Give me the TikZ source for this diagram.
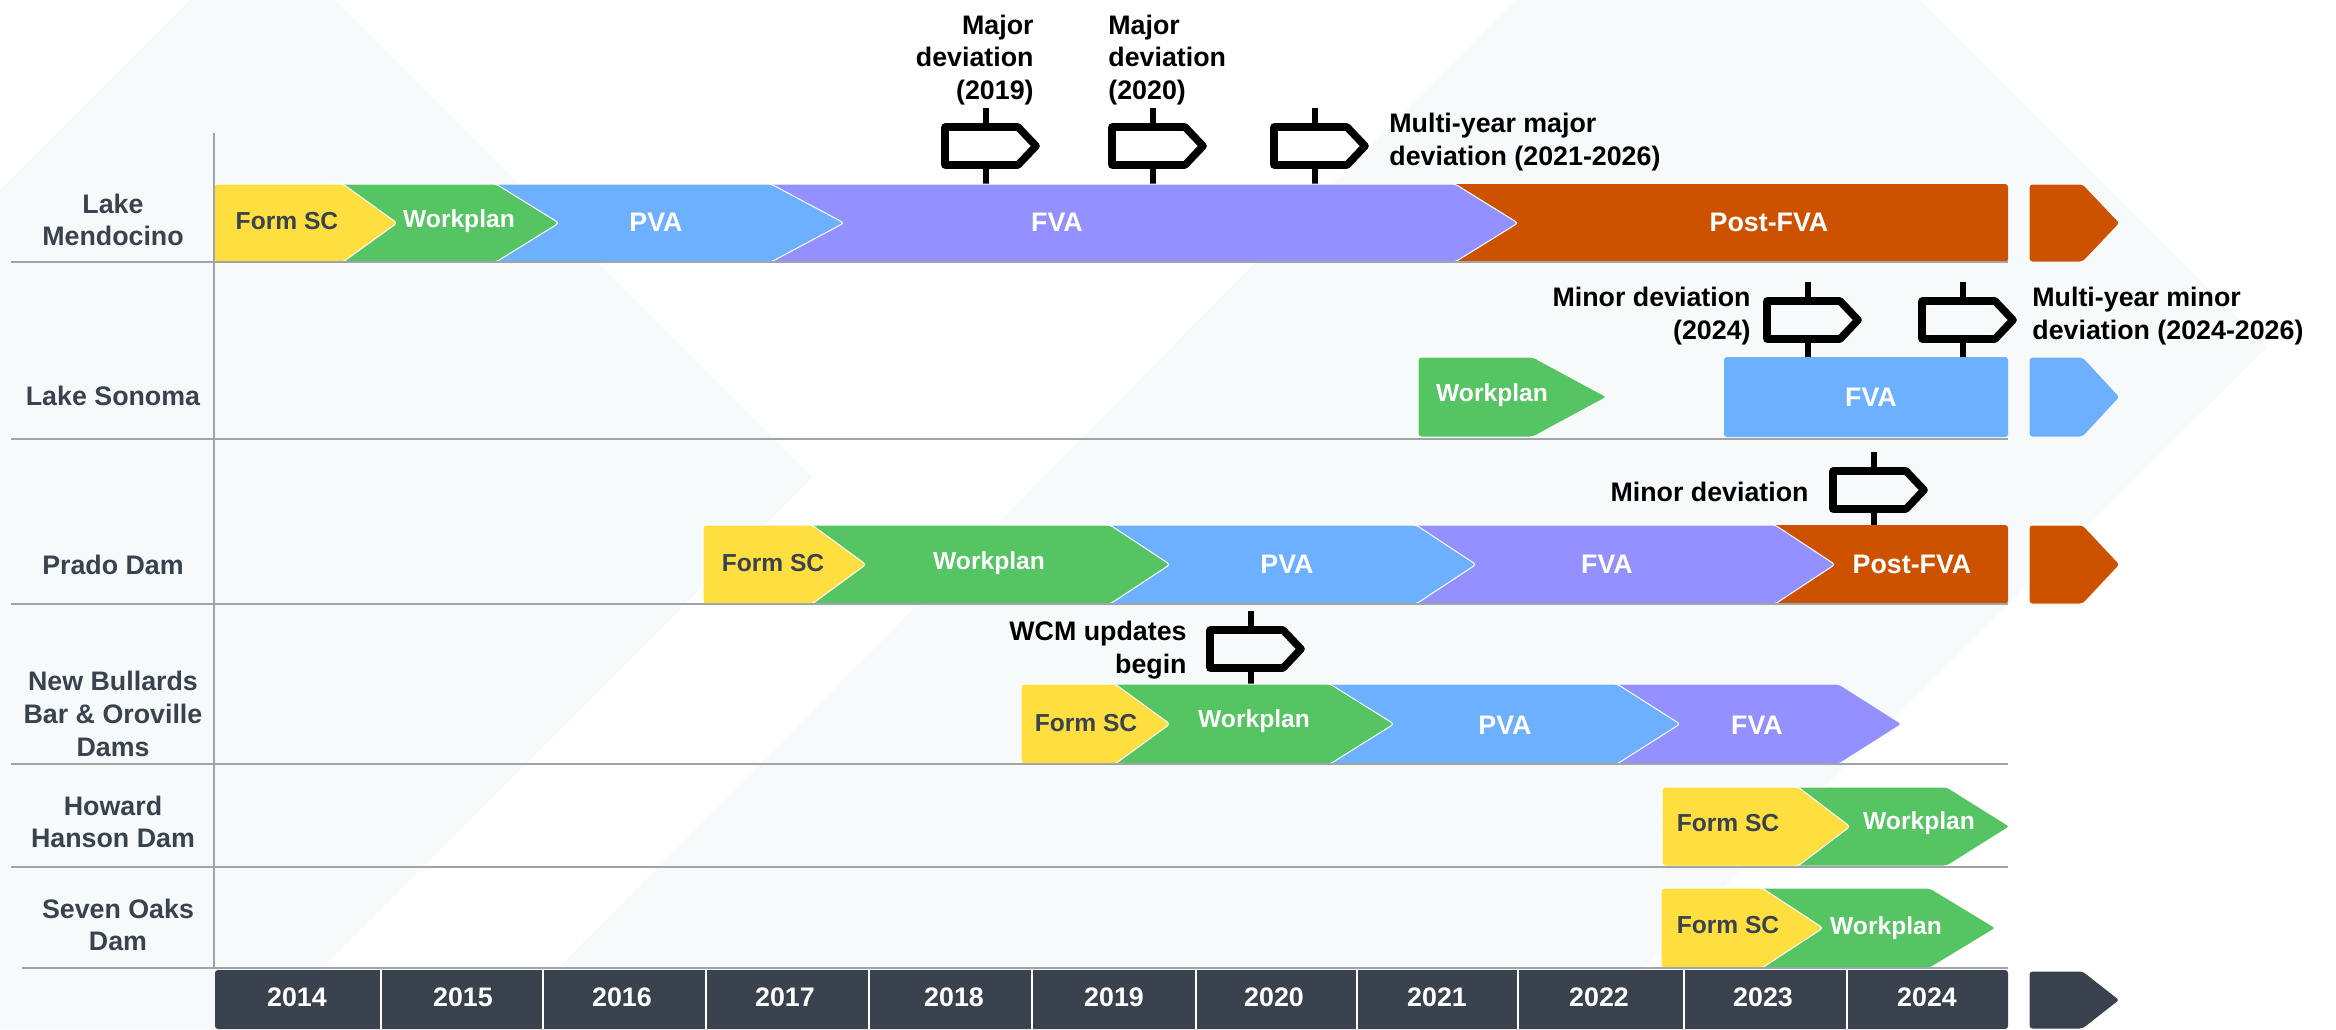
\documentclass[tikz,border=0pt]{standalone}
\usepackage{fontspec}
\setmainfont{Liberation Sans}

\definecolor{bgpale}{HTML}{F6FAFB}
\definecolor{scyellow}{HTML}{FFDF3F}
\definecolor{wpgreen}{HTML}{55C463}
\definecolor{pvablue}{HTML}{6DB0FF}
\definecolor{fvapurple}{HTML}{9391FF}
\definecolor{postorange}{HTML}{CC5200}
\definecolor{slate}{HTML}{3A424D}
\definecolor{rowgray}{HTML}{9FA4AA}

\tikzset{
  phasetxt/.style={font=\fontsize{12.3}{14}\selectfont\bfseries, text=white, inner sep=0pt, yshift=-.6pt},
  widetxt/.style={phasetxt, font=\fontsize{13.4}{14}\selectfont\bfseries},
  sctxt/.style={phasetxt, text=slate},
  lake/.style={font=\fontsize{13.4}{16.4}\selectfont\bfseries, text=slate, align=center, inner sep=0pt},
  note/.style={font=\fontsize{13.4}{16.4}\selectfont\bfseries, text=black, inner sep=0pt},
  yeartxt/.style={lake, text=white},
}

% left, shoulder, tip, top, bottom, colour
\newcommand{\phase}[6]{
  \filldraw [fill=#6, draw=white, line width=.5pt, rounded corners=1.5pt]
    (#1,#4) -- (#2,#4) -- ({#3+2},{(#4+#5)/2}) -- (#2,#5) -- (#1,#5) -- cycle;
}

\begin{document}
\begin{tikzpicture}[x=.5pt, y=-.5pt]
\useasboundingbox (0,0) rectangle (2336,1029);

% background
\fill [bgpale] (0,190) -- (190,0) -- (335,0) -- (812,477) -- (262,1029) -- (0,1029) -- cycle;
\fill [bgpale] (1515,0) -- (1920,0) -- (2267,347) -- (1582,1029) -- (498,1029) -- cycle;

% signposts
\foreach \px/\py in {986/184, 1153/184, 1315/184, 1808/358, 1963/358, 1874/528, 1251/687}{
  \draw [black, line width=3pt] (\px,\py-76) -- (\px,\py-57);
  \draw [black, line width=3pt] (\px,\py-19) -- (\px,\py+4);
  \draw [black, line width=3.8pt, line join=round]
    (\px-41,\py-57) -- (\px+32,\py-57) -- (\px+50,\py-38) -- (\px+32,\py-19) -- (\px-41,\py-19) -- cycle;
}

% Lake Mendocino
\fill [postorange, rounded corners=1.5pt] (1400,184) rectangle (2008,262);
\phase{700}{1455}{1516}{184}{262}{fvapurple}
\phase{480}{771}{842}{184}{262}{pvablue}
\phase{330}{496}{557}{184}{262}{wpgreen}
\phase{214}{343}{395}{184}{262}{scyellow}
\phase{2029}{2083}{2118}{184}{262}{postorange}

% Lake Sonoma
\phase{1418}{1533}{1605}{357}{437}{wpgreen}
\fill [pvablue, rounded corners=1.5pt] (1724,357) rectangle (2008,437);
\phase{2029}{2083}{2118}{357}{437}{pvablue}

% Prado Dam
\fill [postorange, rounded corners=1.5pt] (1700,525) rectangle (2008,604);
\phase{1410}{1775}{1833}{525}{604}{fvapurple}
\phase{1100}{1416}{1474}{525}{604}{pvablue}
\phase{800}{1110}{1168}{525}{604}{wpgreen}
\phase{703}{812}{864}{525}{604}{scyellow}
\phase{2029}{2083}{2118}{525}{604}{postorange}

% New Bullards Bar & Oroville
\phase{1610}{1839}{1900}{684}{764}{fvapurple}
\phase{1325}{1617}{1678}{684}{764}{pvablue}
\phase{1100}{1330}{1392}{684}{764}{wpgreen}
\phase{1021}{1115}{1168}{684}{764}{scyellow}

% Howard Hanson, Seven Oaks
\phase{1790}{1947}{2008}{787}{866}{wpgreen}
\phase{1662}{1798}{1848}{787}{866}{scyellow}
\phase{1755}{1930}{1994}{888}{968}{wpgreen}
\phase{1661}{1762}{1821}{888}{968}{scyellow}

% rows
\draw [rowgray, line width=.8pt] (214,133) -- (214,968);
\foreach \ry in {262, 439, 604, 764, 867}
  \draw [rowgray, line width=.9pt] (11,\ry) -- (2008,\ry);
\draw [rowgray, line width=.9pt] (22,968) -- (2008,968);

% year strip
\fill [slate, rounded corners=1.5pt] (215,970) rectangle (2008,1029);
\foreach \xs in {381,543,706,869,1032,1196,1357,1518,1684,1847}
  \draw [white, line width=1.1pt] (\xs,969) -- (\xs,1029);
\phase{2029}{2083}{2118}{971}{1029}{slate}
\foreach \yr/\xa in {2014/297, 2015/463, 2016/622, 2017/785, 2018/954, 2019/1114, 2020/1274, 2021/1437, 2022/1599, 2023/1763, 2024/1927}
  \node [yeartxt] (y\yr) at (\xa,997) {\yr};

% lake names
\node [lake] (mendocino) at (113,220) {Lake\\Mendocino};
\node [lake] (sonoma) at (113,396) {Lake Sonoma};
\node [lake] (prado) at (113,565) {Prado Dam};
\node [lake] (bullards) at (113,714) {New Bullards\\Bar \& Oroville\\Dams};
\node [lake] (howard) at (113,822) {Howard\\Hanson Dam};
\node [lake] (oaks) at (118,925) {Seven Oaks\\Dam};

% phase names
\node [sctxt] (sc1) at (287,220) {Form SC};
\node [phasetxt] (wp1) at (459,220) {Workplan};
\node [widetxt] (pva1) at (656,221) {PVA};
\node [widetxt] (fva1) at (1057,221) {FVA};
\node [widetxt] (post1) at (1769,221) {Post-FVA};
\node [phasetxt] (wp2) at (1492,394) {Workplan};
\node [widetxt] (fva2) at (1871,396) {FVA};
\node [sctxt] (sc3) at (773,562) {Form SC};
\node [phasetxt] (wp3) at (989,562) {Workplan};
\node [widetxt] (pva3) at (1287,563) {PVA};
\node [widetxt] (fva3) at (1607,563) {FVA};
\node [widetxt] (post3) at (1912,563) {Post-FVA};
\node [sctxt] (sc4) at (1086,722) {Form SC};
\node [phasetxt] (wp4) at (1254,720) {Workplan};
\node [widetxt] (pva4) at (1505,724) {PVA};
\node [widetxt] (fva4) at (1757,724) {FVA};
\node [sctxt] (sc5) at (1728,822) {Form SC};
\node [phasetxt] (wp5) at (1919,822) {Workplan};
\node [sctxt] (sc6) at (1728,924) {Form SC};
\node [phasetxt] (wp6) at (1886,927) {Workplan};

% notes
\node [note, align=right, anchor=east] (dev19) at (1034,60) {Major\\deviation\\(2019)};
\node [note, align=left, anchor=west] (dev20) at (1108,60) {Major\\deviation\\(2020)};
\node [note, align=left, anchor=west] (dev21) at (1389,142) {Multi-year major\\deviation (2021-2026)};
\node [note, align=right, anchor=east] (dev24) at (1751,316) {Minor deviation\\(2024)};
\node [note, align=left, anchor=west] (dev26) at (2032,316) {Multi-year minor\\deviation (2024-2026)};
\node [note, anchor=east] (devprado) at (1809,492) {Minor deviation};
\node [note, align=right, anchor=east] (wcm) at (1187,650) {WCM updates\\begin};
\end{tikzpicture}
\end{document}
